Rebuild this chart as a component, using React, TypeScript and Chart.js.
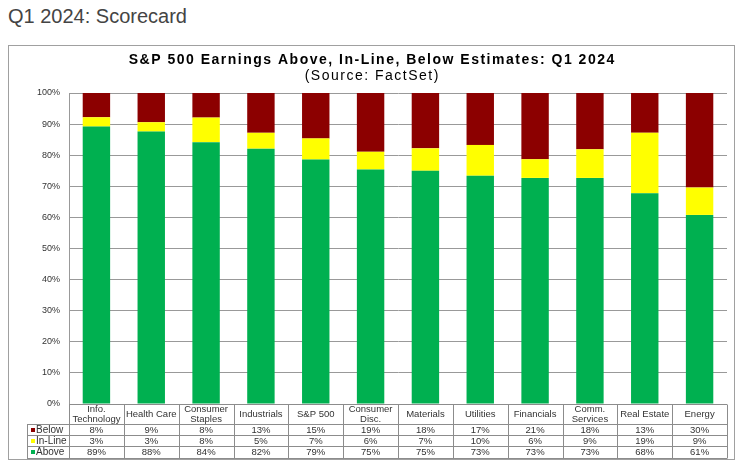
import React, { useEffect, useRef } from "react";
import { Chart, registerables } from "chart.js";

Chart.register(...registerables);

const pageTitle = "Q1 2024: Scorecard";
const chartTitle = "S&P 500 Earnings Above, In-Line, Below Estimates: Q1 2024";
const chartSubtitle = "(Source: FactSet)";

const categories: string[][] = [
  ["Info.", "Technology"],
  ["Health Care"],
  ["Consumer", "Staples"],
  ["Industrials"],
  ["S&P 500"],
  ["Consumer", "Disc."],
  ["Materials"],
  ["Utilities"],
  ["Financials"],
  ["Comm.", "Services"],
  ["Real Estate"],
  ["Energy"],
];

const aboveValues = [89.2, 87.6, 84.2, 82.1, 78.6, 75.4, 75.0, 73.4, 72.7, 72.7, 67.8, 60.8];
const inLineValues = [3.0, 3.0, 7.9, 5.1, 6.8, 5.7, 7.2, 9.9, 6.0, 9.2, 19.4, 8.8];
const belowValues = [7.8, 9.4, 7.9, 12.8, 14.6, 18.9, 17.8, 16.7, 21.3, 18.1, 12.8, 30.4];

const seriesNames = ["Above", "In-Line", "Below"];
const seriesColors = ["#00B050", "#FFFF00", "#8C0000"];

const yMin = 0;
const yMax = 100;
const yStep = 10;

const textColor = "#333333";
const lineColor = "#999999";

const titlePlugin = {
  id: "wideTitle",
  afterDraw(chart: any) {
    const ctx = chart.ctx;
    const cx = chart.width / 2;
    ctx.save();
    ctx.fillStyle = "#000";
    ctx.textAlign = "center";
    ctx.textBaseline = "alphabetic";
    (ctx as any).letterSpacing = "1.5px";
    ctx.font = "bold 14px Arial, 'Liberation Sans', sans-serif";
    ctx.fillText(chartTitle, cx + 0.75, 18);
    ctx.font = "14px Arial, 'Liberation Sans', sans-serif";
    ctx.fillText(chartSubtitle, cx + 0.75, 34);
    ctx.restore();
  },
};

const tablePlugin = {
  id: "dataTable",
  afterDraw(chart: any) {
    const ctx = chart.ctx;
    const a = chart.chartArea;
    const x = chart.scales.x;
    const labels = chart.data.labels as string[][];
    const n = labels.length;
    const colW = (a.right - a.left) / n;
    const top = a.bottom;
    const rows = [top, top + 20, top + 31, top + 42.3, top + 53.7];
    const legendLeft = 18;
    const px = (v: number) => Math.round(v) + 0.5;

    ctx.save();
    ctx.strokeStyle = "#8c8c8c";
    ctx.lineWidth = 1;
    ctx.beginPath();
    ctx.moveTo(a.left, px(rows[0]));
    ctx.lineTo(a.right, px(rows[0]));
    for (let r = 1; r < rows.length; r++) {
      ctx.moveTo(legendLeft, px(rows[r]));
      ctx.lineTo(a.right, px(rows[r]));
    }
    for (let i = 0; i <= n; i++) {
      const bx = i < n ? x.getPixelForValue(i) - colW / 2 : x.getPixelForValue(n - 1) + colW / 2;
      ctx.moveTo(px(bx), px(rows[0]));
      ctx.lineTo(px(bx), px(rows[4]));
    }
    ctx.moveTo(px(legendLeft), px(rows[1]));
    ctx.lineTo(px(legendLeft), px(rows[4]));
    ctx.stroke();

    ctx.fillStyle = textColor;
    ctx.textAlign = "center";
    ctx.textBaseline = "middle";
    ctx.font = "9.5px Arial, 'Liberation Sans', sans-serif";
    for (let i = 0; i < n; i++) {
      const cx = x.getPixelForValue(i);
      const lab = labels[i];
      if (lab.length === 2) {
        ctx.fillText(lab[0], cx, top + 5.5);
        ctx.fillText(lab[1], cx, top + 15.5);
      } else {
        ctx.fillText(lab[0], cx, top + 10.5);
      }
    }

    const order = [2, 1, 0];
    order.forEach((di, r) => {
      const ds = chart.data.datasets[di];
      const cy = (rows[r + 1] + rows[r + 2]) / 2;
      ctx.font = "9.5px Arial, 'Liberation Sans', sans-serif";
      ctx.textAlign = "center";
      ctx.fillStyle = textColor;
      (ds.data as number[]).forEach((v, i) => {
        ctx.fillText(Math.round(v) + "%", x.getPixelForValue(i), cy + 0.5);
      });
      ctx.fillStyle = ds.backgroundColor as string;
      ctx.fillRect(22, Math.round(cy) - 2, 4, 4);
      ctx.fillStyle = textColor;
      ctx.textAlign = "left";
      ctx.font = "10px Arial, 'Liberation Sans', sans-serif";
      ctx.fillText(ds.label as string, 27, cy + 0.5);
    });
    ctx.restore();
  },
};

export default function App() {
  const canvasRef = useRef<HTMLCanvasElement | null>(null);

  useEffect(() => {
    if (!canvasRef.current) return;
    const chart = new Chart(canvasRef.current, {
      type: "bar",
      data: {
        labels: categories as any,
        datasets: [
          { label: seriesNames[0], data: aboveValues, backgroundColor: seriesColors[0] },
          { label: seriesNames[1], data: inLineValues, backgroundColor: seriesColors[1] },
          { label: seriesNames[2], data: belowValues, backgroundColor: seriesColors[2] },
        ],
      },
      options: {
        responsive: false,
        animation: false,
        devicePixelRatio: 1,
        layout: { padding: { left: 0, right: 7, top: 47, bottom: 55 } },
        datasets: {
          bar: { barPercentage: 0.5, categoryPercentage: 1, borderWidth: 0 },
        },
        plugins: {
          legend: { display: false },
          tooltip: { enabled: false },
          title: { display: false },
        },
        scales: {
          x: {
            stacked: true,
            display: false,
          },
          y: {
            stacked: true,
            min: yMin,
            max: yMax,
            afterFit: (s: any) => {
              s.width = 60;
            },
            ticks: {
              stepSize: yStep,
              padding: 9,
              color: textColor,
              font: { family: "Arial, 'Liberation Sans', sans-serif", size: 9 },
              callback: (v: any) => v + "%",
            },
            grid: { color: lineColor, drawTicks: false, lineWidth: 1 },
            border: { display: true, color: lineColor },
          },
        },
      },
      plugins: [titlePlugin, tablePlugin],
    });
    return () => chart.destroy();
  }, []);

  return (
    <div
      style={{
        position: "absolute",
        left: 0,
        top: 0,
        width: 740,
        height: 467,
        background: "#fff",
        fontFamily: "Arial, 'Liberation Sans', sans-serif",
      }}
    >
      <div
        style={{
          position: "absolute",
          left: 8,
          top: 5,
          fontSize: 20,
          lineHeight: "23px",
          color: "#444",
          whiteSpace: "nowrap",
        }}
      >
        {pageTitle}
      </div>
      <div
        style={{
          position: "absolute",
          left: 8,
          top: 45,
          width: 725,
          height: 413,
          border: "1px solid #a0a0a0",
        }}
      >
        <canvas
          ref={canvasRef}
          width={725}
          height={413}
          style={{ display: "block", width: 725, height: 413 }}
        />
      </div>
    </div>
  );
}
